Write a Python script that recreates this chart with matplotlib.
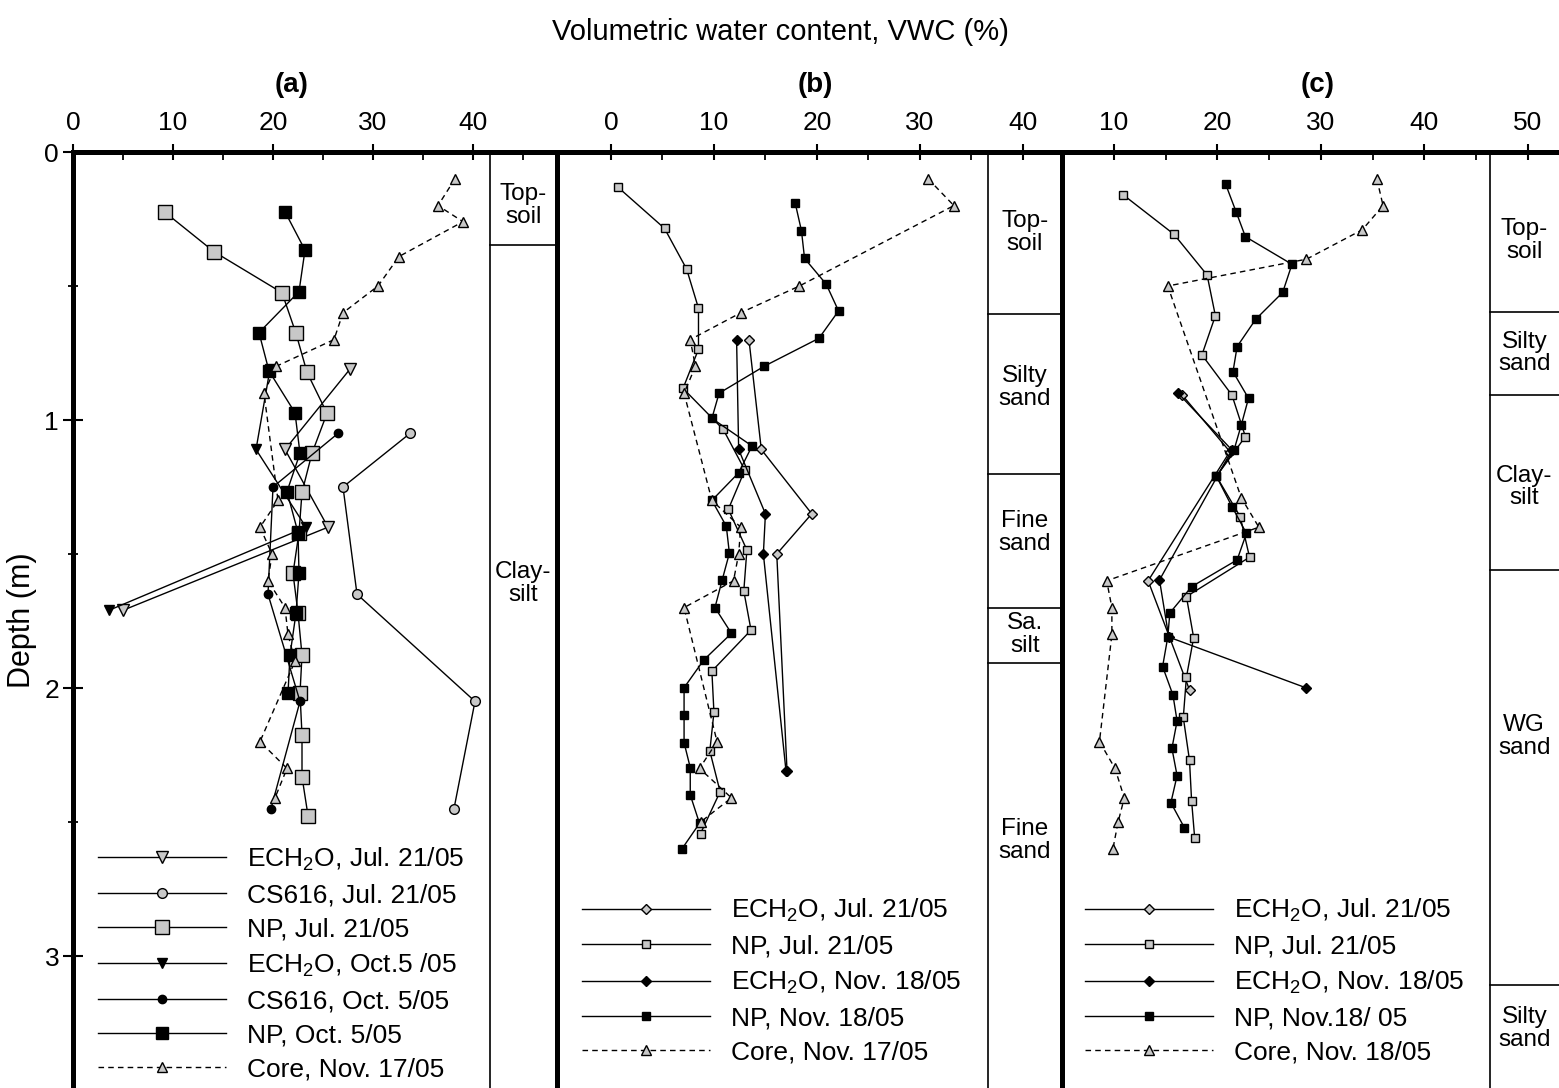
import matplotlib.pyplot as plt

plt.rcParams['font.family'] = ['Liberation Sans', 'DejaVu Sans']
plt.rcParams['mathtext.fontset'] = 'custom'
plt.rcParams['mathtext.rm'] = 'Liberation Sans'
plt.rcParams['mathtext.it'] = 'Liberation Sans:italic'

GREY = '#c8c8c8'

# ---- panel (a): depth (m) / VWC (%)
a_ech_jul_d = [0.81, 1.11, 1.40, 1.71]
a_ech_jul_v = [27.7, 21.2, 25.5, 5.0]
a_cs_jul_d = [1.05, 1.25, 1.65, 2.05, 2.45]
a_cs_jul_v = [33.7, 27.0, 28.4, 40.2, 38.1]
a_np_jul_d = [0.225, 0.372, 0.525, 0.677, 0.822, 0.975, 1.124, 1.27, 1.42,
              1.572, 1.72, 1.877, 2.02, 2.175, 2.331, 2.476]
a_np_jul_v = [9.2, 14.1, 20.9, 22.3, 23.4, 25.4, 23.9, 22.9, 22.6,
              22.0, 22.5, 22.9, 22.7, 22.9, 22.9, 23.5]
a_ech_oct_d = [0.81, 1.11, 1.40, 1.71]
a_ech_oct_v = [19.7, 18.3, 23.3, 3.6]
a_cs_oct_d = [1.05, 1.25, 1.65, 2.05, 2.45]
a_cs_oct_v = [26.5, 20.0, 19.5, 22.7, 19.8]
a_np_oct_d = [0.223, 0.366, 0.521, 0.674, 0.817, 0.973, 1.124, 1.267, 1.42,
              1.572, 1.721, 1.877, 2.02]
a_np_oct_v = [21.2, 23.2, 22.6, 18.6, 19.6, 22.2, 22.7, 21.4, 22.5,
              22.6, 22.3, 21.7, 21.5]
a_core_d = [0.10, 0.20, 0.26, 0.39, 0.50, 0.60, 0.70, 0.80, 0.90, 1.30, 1.40,
            1.50, 1.60, 1.70, 1.80, 1.90, 2.20, 2.30, 2.41]
a_core_v = [38.2, 36.5, 39.0, 32.6, 30.5, 27.0, 26.1, 20.3, 19.1, 20.5, 18.7,
            19.9, 19.5, 21.2, 21.5, 22.2, 18.7, 21.4, 20.2]

# ---- panel (b)
b_ech_jul_d = [0.70, 1.11, 1.35, 1.50, 2.31]
b_ech_jul_v = [13.4, 14.6, 19.5, 16.1, 17.1]
b_np_jul_d = [0.132, 0.285, 0.437, 0.583, 0.736, 0.882, 1.035, 1.187, 1.333,
              1.485, 1.638, 1.784, 1.937, 2.091, 2.235, 2.387, 2.543]
b_np_jul_v = [0.7, 5.2, 7.35, 8.5, 8.5, 7.0, 10.9, 13.0, 11.4,
              13.2, 12.9, 13.6, 9.8, 10.0, 9.6, 10.6, 8.7]
b_ech_nov_d = [0.70, 1.11, 1.35, 1.50, 2.31]
b_ech_nov_v = [12.2, 12.4, 15.0, 14.8, 17.0]
b_np_nov_d = [0.192, 0.294, 0.397, 0.493, 0.593, 0.695, 0.799, 0.90, 0.994,
              1.097, 1.197, 1.30, 1.396, 1.497, 1.597, 1.70, 1.796, 1.896,
              1.999, 2.10, 2.204, 2.297, 2.399, 2.505, 2.60]
b_np_nov_v = [17.9, 18.5, 18.8, 20.9, 22.1, 20.2, 14.9, 10.5, 9.8,
              13.7, 12.4, 9.8, 11.2, 11.5, 10.8, 10.1, 11.7, 9.0,
              7.1, 7.1, 7.1, 7.7, 7.7, 8.6, 6.9]
b_core_d = [0.10, 0.20, 0.50, 0.60, 0.70, 0.80, 0.90, 1.30, 1.40, 1.50, 1.60,
            1.70, 2.20, 2.30, 2.41, 2.50]
b_core_v = [30.8, 33.3, 18.3, 12.6, 7.7, 8.2, 7.1, 9.8, 12.6, 12.4, 11.9,
            7.1, 10.3, 8.6, 11.7, 8.7]

# ---- panel (c)
c_ech_jul_d = [0.907, 1.118, 1.60, 2.007]
c_ech_jul_v = [16.6, 21.2, 13.3, 17.3]
c_np_jul_d = [0.160, 0.307, 0.459, 0.611, 0.757, 0.907, 1.062, 1.21, 1.361,
              1.512, 1.659, 1.812, 1.96, 2.11, 2.27, 2.42, 2.56]
c_np_jul_v = [10.9, 15.8, 19.0, 19.8, 18.5, 21.4, 22.7, 19.9, 22.2,
              23.1, 17.0, 17.7, 17.0, 16.7, 17.3, 17.5, 17.8]
c_ech_nov_d = [0.90, 1.112, 1.597, 1.81, 2.0]
c_ech_nov_v = [16.2, 21.4, 14.4, 15.3, 28.6]
c_np_nov_d = [0.121, 0.223, 0.316, 0.419, 0.524, 0.624, 0.726, 0.820, 0.919,
              1.019, 1.112, 1.21, 1.323, 1.423, 1.522, 1.622, 1.72, 1.81,
              1.92, 2.026, 2.123, 2.225, 2.327, 2.428, 2.521]
c_np_nov_v = [20.8, 21.8, 22.7, 27.2, 26.3, 23.7, 21.9, 21.5, 23.0,
              22.3, 21.6, 19.9, 21.4, 22.8, 21.9, 17.5, 15.4, 15.2,
              14.7, 15.7, 16.1, 15.6, 16.1, 15.5, 16.8]
c_core_d = [0.10, 0.20, 0.29, 0.40, 0.50, 1.29, 1.40, 1.60, 1.70, 1.80, 2.20,
            2.30, 2.41, 2.50, 2.60]
c_core_v = [35.4, 36.0, 34.0, 28.6, 15.2, 22.3, 24.0, 9.3, 9.8, 9.8, 8.6,
            10.1, 11.0, 10.4, 9.9]

# soil columns: layer boundaries, label depths, label text
a_layer_bounds = [0.347]
a_layer_pos = [0.20, 1.61]
a_layer_names = ['Top-\nsoil', 'Clay-\nsilt']
b_layer_bounds = [0.604, 1.20, 1.70, 1.907]
b_layer_pos = [0.30, 0.88, 1.42, 1.80, 2.57]
b_layer_names = ['Top-\nsoil', 'Silty\nsand', 'Fine\nsand', 'Sa.\nsilt', 'Fine\nsand']
c_layer_bounds = [0.597, 0.907, 1.56, 3.108]
c_layer_pos = [0.33, 0.75, 1.25, 2.18, 3.27]
c_layer_names = ['Top-\nsoil', 'Silty\nsand', 'Clay-\nsilt', 'WG\nsand', 'Silty\nsand']

W, H = 1559, 1088
fig = plt.figure(figsize=(W / 100, H / 100), dpi=100)

TOP = 152
DEPTH_MAX = (H - TOP) / 268.0


def make_axes(x0, x1):
    return fig.add_axes([x0 / W, 0, (x1 - x0) / W, (H - TOP) / H])


def frame(ax, xlim, majors, minors):
    ax.set_xlim(*xlim)
    ax.set_ylim(DEPTH_MAX, 0)
    ax.xaxis.tick_top()
    ax.set_xticks(majors)
    ax.set_xticks(minors, minor=True)
    ax.tick_params(axis='x', which='major', direction='inout', length=12,
                   width=1.5, labelsize=19, pad=6)
    ax.tick_params(axis='x', which='minor', direction='in', length=6, width=1.3)
    ax.set_yticks([])
    for s in ('right', 'bottom'):
        ax.spines[s].set_visible(False)
    for s in ('top', 'left'):
        ax.spines[s].set_linewidth(3.6)


def soil_column(ax, x0, bounds, pos, names):
    x1 = ax.get_xlim()[1]
    ax.plot([x0, x0], [0, DEPTH_MAX], color='k', lw=1.2, clip_on=False)
    for b in bounds:
        ax.plot([x0, x1], [b, b], color='k', lw=1.2)
    for p, t in zip(pos, names):
        ax.text((x0 + x1) / 2, p, t, ha='center', va='center', fontsize=17.5,
                linespacing=1.05)


def series(ax, v, d, marker, fc, ms, label, ls='-'):
    ax.plot(v, d, linestyle=ls if ls == '-' else (0, (4, 3)), color='k',
            lw=1.0, marker=marker, mfc=fc, mec='k', mew=1.0, ms=ms, label=label)


def legend(ax, x, y):
    ax.legend(loc='upper left', bbox_to_anchor=(x, y), frameon=False,
              fontsize=19, handlelength=4.85, handletextpad=0.8,
              labelspacing=0.39, borderpad=0, borderaxespad=0)


# (a)
ax = make_axes(73, 557)
frame(ax, (0, 48.4), [0, 10, 20, 30, 40], [5, 15, 25, 35, 45])
ax.set_yticks([0, 1, 2, 3])
ax.set_yticks([0.5, 1.5, 2.5], minor=True)
ax.tick_params(axis='y', which='major', direction='inout', length=14,
               width=1.5, labelsize=19, pad=3)
ax.tick_params(axis='y', which='minor', direction='inout', length=7, width=1.3)
series(ax, a_ech_jul_v, a_ech_jul_d, 'v', GREY, 8, r'ECH$_2$O, Jul. 21/05')
series(ax, a_cs_jul_v, a_cs_jul_d, 'o', GREY, 7, 'CS616, Jul. 21/05')
series(ax, a_np_jul_v, a_np_jul_d, 's', GREY, 10, 'NP, Jul. 21/05')
series(ax, a_ech_oct_v, a_ech_oct_d, 'v', 'k', 7, r'ECH$_2$O, Oct.5 /05')
series(ax, a_cs_oct_v, a_cs_oct_d, 'o', 'k', 6, 'CS616, Oct. 5/05')
series(ax, a_np_oct_v, a_np_oct_d, 's', 'k', 9, 'NP, Oct. 5/05')
series(ax, a_core_v, a_core_d, '^', GREY, 7, 'Core, Nov. 17/05', ls='--')
soil_column(ax, 41.7, a_layer_bounds, a_layer_pos, a_layer_names)
legend(ax, 0.052, 0.259)

# (b)
ax = make_axes(557, 1062)
frame(ax, (-5.24, 43.8), [0, 10, 20, 30, 40], [5, 15, 25, 35])
series(ax, b_ech_jul_v, b_ech_jul_d, 'D', GREY, 4.8, r'ECH$_2$O, Jul. 21/05')
series(ax, b_np_jul_v, b_np_jul_d, 's', GREY, 6, 'NP, Jul. 21/05')
series(ax, b_ech_nov_v, b_ech_nov_d, 'D', 'k', 4.8, r'ECH$_2$O, Nov. 18/05')
series(ax, b_np_nov_v, b_np_nov_d, 's', 'k', 5.5, 'NP, Nov. 18/05')
series(ax, b_core_v, b_core_d, '^', GREY, 7, 'Core, Nov. 17/05', ls='--')
soil_column(ax, 36.6, b_layer_bounds, b_layer_pos, b_layer_names)
legend(ax, 0.05, 0.204)

# (c)
ax = make_axes(1062, 1559)
frame(ax, (4.98, 53.0), [10, 20, 30, 40, 50], [15, 25, 35, 45])
series(ax, c_ech_jul_v, c_ech_jul_d, 'D', GREY, 4.8, r'ECH$_2$O, Jul. 21/05')
series(ax, c_np_jul_v, c_np_jul_d, 's', GREY, 6, 'NP, Jul. 21/05')
series(ax, c_ech_nov_v, c_ech_nov_d, 'D', 'k', 4.8, r'ECH$_2$O, Nov. 18/05')
series(ax, c_np_nov_v, c_np_nov_d, 's', 'k', 5.5, 'NP, Nov.18/ 05')
series(ax, c_core_v, c_core_d, '^', GREY, 7, 'Core, Nov. 18/05', ls='--')
soil_column(ax, 46.3, c_layer_bounds, c_layer_pos, c_layer_names)
legend(ax, 0.046, 0.204)

fig.text(780 / W, 1 - 32 / H, 'Volumetric water content, VWC (%)',
         ha='center', va='center', fontsize=21)
for x, lab in [(292, '(a)'), (815, '(b)'), (1318, '(c)')]:
    fig.text(x / W, 1 - 85 / H, lab, ha='center', va='center', fontsize=20,
             fontweight='bold')
fig.text(22 / W, 1 - 620 / H, 'Depth (m)', ha='center', va='center',
         rotation=90, fontsize=22)

fig.savefig('out.png', dpi=100)
